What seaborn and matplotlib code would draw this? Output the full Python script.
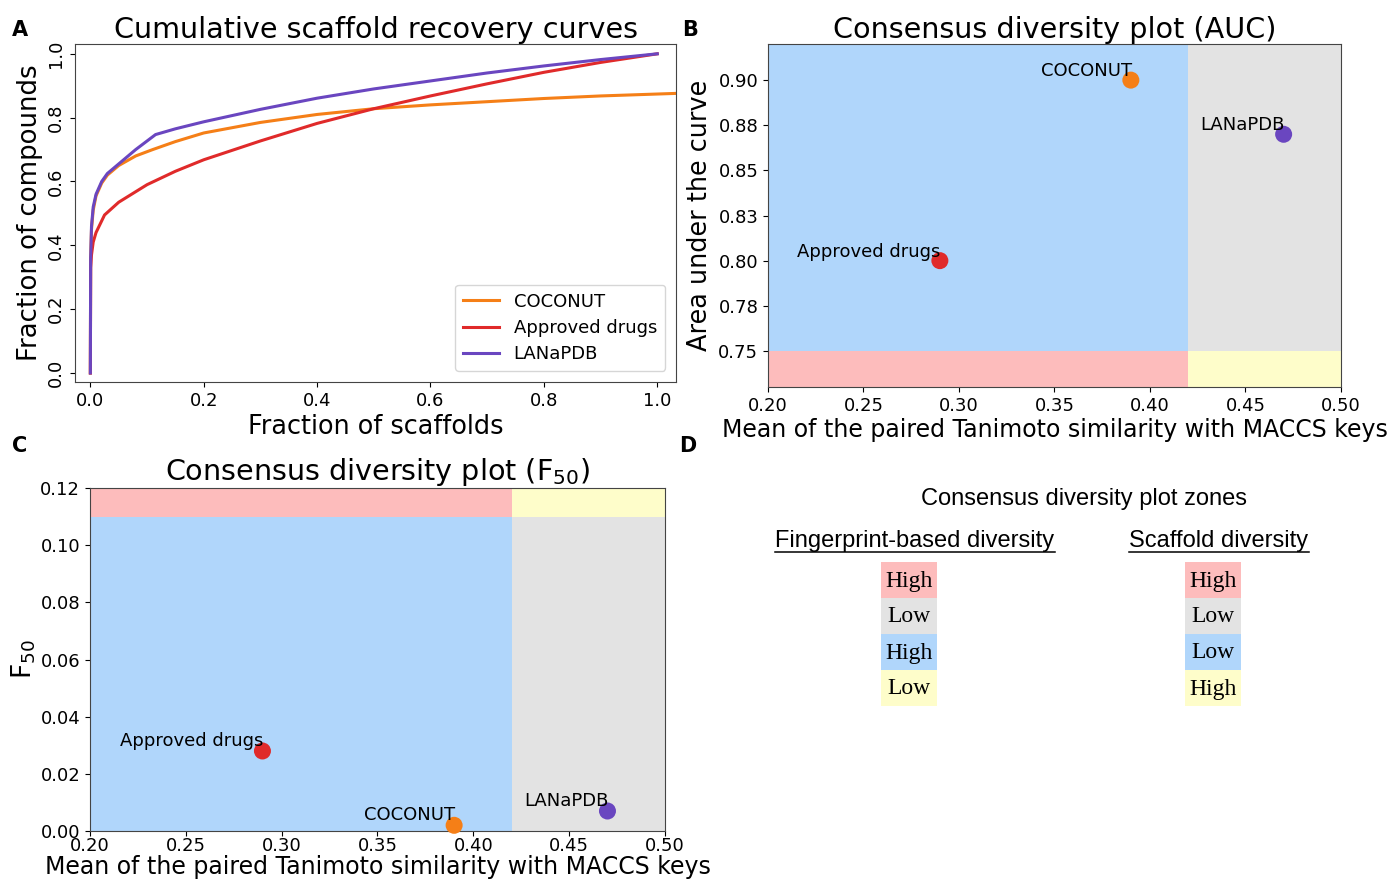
import numpy as np
import pandas as pd
import matplotlib
matplotlib.use("Agg")
import matplotlib.pyplot as plt
from matplotlib.patches import Rectangle
import seaborn as sns

# ---- cumulative scaffold recovery curves ----
frac_scaffolds_coconut = [0.0, 0.0005, 0.002, 0.005, 0.01, 0.02, 0.03, 0.05, 0.08, 0.11, 0.15, 0.2, 0.3, 0.4, 0.5, 0.6, 0.7, 0.8, 0.9, 1.0, 1.1]
frac_compounds_coconut = [0.0, 0.36, 0.45, 0.51, 0.555, 0.595, 0.62, 0.65, 0.68, 0.70, 0.725, 0.752, 0.785, 0.81, 0.828, 0.84, 0.85, 0.86, 0.868, 0.874, 0.88]

frac_scaffolds_drugs = [0.0, 0.0005, 0.002, 0.005, 0.01, 0.025, 0.05, 0.1, 0.15, 0.2, 0.3, 0.4, 0.5, 0.6, 0.7, 0.8, 0.9, 1.0]
frac_compounds_drugs = [0.0, 0.33, 0.37, 0.41, 0.44, 0.495, 0.535, 0.59, 0.632, 0.668, 0.727, 0.782, 0.828, 0.868, 0.906, 0.942, 0.973, 1.0]

frac_scaffolds_lanapdb = [0.0, 0.0005, 0.002, 0.005, 0.01, 0.02, 0.03, 0.05, 0.08, 0.115, 0.15, 0.2, 0.3, 0.4, 0.5, 0.6, 0.7, 0.8, 0.9, 1.0]
frac_compounds_lanapdb = [0.0, 0.36, 0.46, 0.52, 0.56, 0.60, 0.625, 0.655, 0.70, 0.747, 0.765, 0.787, 0.826, 0.861, 0.89, 0.915, 0.94, 0.962, 0.982, 1.0]

# ---- consensus diversity plot values ----
databases = ["COCONUT", "Approved drugs", "LANaPDB"]
mean_tanimoto_maccs = [0.39, 0.29, 0.47]
auc_values = [0.90, 0.80, 0.870]
f50_values = [0.002, 0.028, 0.007]

palette = {"COCONUT": "#f57f17", "Approved drugs": "#e02a2a", "LANaPDB": "#6a46c0"}

# zone colours and thresholds
zone_pink = "#fdbcbc"
zone_gray = "#e3e3e3"
zone_blue = "#b0d6fb"
zone_yellow = "#fefdca"
sim_threshold = 0.42
auc_threshold = 0.75
f50_threshold = 0.11

auc_ticks = [0.75, 0.775, 0.80, 0.825, 0.85, 0.875, 0.90]
auc_ticklabels = ["0.75", "0.78", "0.80", "0.83", "0.85", "0.88", "0.90"]

zone_fp_labels = ["High", "Low", "High", "Low"]
zone_scaf_labels = ["High", "Low", "Low", "High"]
zone_colors = [zone_pink, zone_gray, zone_blue, zone_yellow]

plt.rcParams["font.family"] = ["DejaVu Sans"]

fig = plt.figure(figsize=(13.9, 8.82), dpi=100)

curves = pd.concat([
    pd.DataFrame({"x": frac_scaffolds_coconut, "y": frac_compounds_coconut, "db": "COCONUT"}),
    pd.DataFrame({"x": frac_scaffolds_drugs, "y": frac_compounds_drugs, "db": "Approved drugs"}),
    pd.DataFrame({"x": frac_scaffolds_lanapdb, "y": frac_compounds_lanapdb, "db": "LANaPDB"}),
], ignore_index=True)

points = pd.DataFrame({"db": databases, "sim": mean_tanimoto_maccs,
                       "auc": auc_values, "f50": f50_values})

# ---- panel A ----
axA = fig.add_axes([0.054, 0.567, 0.4323, 0.3832])
sns.lineplot(data=curves, x="x", y="y", hue="db", palette=palette,
             linewidth=2.2, sort=False, estimator=None, ax=axA)
axA.set_xlim(-0.027, 1.033)
axA.set_ylim(-0.028, 1.031)
axA.set_xticks([0, 0.2, 0.4, 0.6, 0.8, 1.0])
axA.set_yticks([0, 0.2, 0.4, 0.6, 0.8, 1.0])
axA.tick_params(axis="both", labelsize=13)
for lab in axA.get_yticklabels():
    lab.set_rotation(90)
    lab.set_va("center")
axA.set_xlabel("Fraction of scaffolds", fontsize=18.4, labelpad=3)
axA.set_ylabel("Fraction of compounds", fontsize=18.7, labelpad=3)
axA.set_title("Cumulative scaffold recovery curves", fontsize=20.6, pad=4)
leg = axA.legend(title=None, fontsize=13, loc="lower right",
                 handlelength=2.0, borderpad=0.45, labelspacing=0.45,
                 borderaxespad=0.6)

# ---- panel B ----
axB = fig.add_axes([0.5525, 0.5612, 0.4122, 0.3889])
axB.set_xlim(0.2, 0.5)
axB.set_ylim(0.73, 0.92)
axB.axvspan(0.2, sim_threshold, color=zone_blue, lw=0, zorder=0)
axB.axvspan(sim_threshold, 0.5, color=zone_gray, lw=0, zorder=0)
axB.fill_between([0.2, sim_threshold], 0.73, auc_threshold, color=zone_pink, lw=0, zorder=0.5)
axB.fill_between([sim_threshold, 0.5], 0.73, auc_threshold, color=zone_yellow, lw=0, zorder=0.5)
sns.scatterplot(data=points, x="sim", y="auc", hue="db", palette=palette,
                s=150, edgecolor="none", legend=False, ax=axB, zorder=3)
for db, sx, sy in zip(databases, mean_tanimoto_maccs, auc_values):
    axB.text(sx + 0.0005, sy, db, ha="right", va="bottom", fontsize=13, zorder=4)
axB.set_yticks(auc_ticks)
axB.set_yticklabels(auc_ticklabels)
axB.set_xticks([0.2, 0.25, 0.3, 0.35, 0.4, 0.45, 0.5])
axB.set_xticklabels(["0.20", "0.25", "0.30", "0.35", "0.40", "0.45", "0.50"])
axB.tick_params(axis="both", labelsize=13)
axB.set_xlabel("Mean of the paired Tanimoto similarity with MACCS keys", fontsize=17, labelpad=2)
axB.set_ylabel("Area under the curve", fontsize=18.4)
axB.set_title("Consensus diversity plot (AUC)", fontsize=20.6, pad=4)

# ---- panel C ----
axC = fig.add_axes([0.0647, 0.0578, 0.4137, 0.3889])
axC.set_xlim(0.2, 0.5)
axC.set_ylim(0.0, 0.12)
axC.axvspan(0.2, sim_threshold, color=zone_blue, lw=0, zorder=0)
axC.axvspan(sim_threshold, 0.5, color=zone_gray, lw=0, zorder=0)
axC.fill_between([0.2, sim_threshold], f50_threshold, 0.12, color=zone_pink, lw=0, zorder=0.5)
axC.fill_between([sim_threshold, 0.5], f50_threshold, 0.12, color=zone_yellow, lw=0, zorder=0.5)
sns.scatterplot(data=points, x="sim", y="f50", hue="db", palette=palette,
                s=150, edgecolor="none", legend=False, ax=axC, zorder=3, clip_on=False)
for db, sx, sy in zip(databases, mean_tanimoto_maccs, f50_values):
    axC.text(sx + 0.0005, sy + 0.0005, db, ha="right", va="bottom", fontsize=13, zorder=4)
axC.set_xticks([0.2, 0.25, 0.3, 0.35, 0.4, 0.45, 0.5])
axC.set_xticklabels(["0.20", "0.25", "0.30", "0.35", "0.40", "0.45", "0.50"])
axC.set_yticks([0.0, 0.02, 0.04, 0.06, 0.08, 0.10, 0.12])
axC.set_yticklabels(["0.00", "0.02", "0.04", "0.06", "0.08", "0.10", "0.12"])
axC.tick_params(axis="both", labelsize=13)
axC.tick_params(axis="x", pad=1)
axC.set_xlabel("Mean of the paired Tanimoto similarity with MACCS keys", fontsize=17, labelpad=0)
axC.set_ylabel("F$_{50}$", fontsize=19, labelpad=2)
axC.set_title("Consensus diversity plot (F$_{50}$)", fontsize=20.6, pad=4)

for ax in (axA, axB, axC):
    for sp in ax.spines.values():
        sp.set_color("#444444")

# ---- panel D: zone key ----
axD = fig.add_axes([0.5, 0.0, 0.5, 0.5])
axD.set_xlim(0, 695)
axD.set_ylim(441, 0)
axD.axis("off")
sans_key = ["Liberation Sans", "DejaVu Sans"]
axD.text(1084 - 695, 58, "Consensus diversity plot zones", ha="center", va="center",
         fontsize=17, family=sans_key)
for cx, head, labels in ((915 - 695, "Fingerprint-based diversity", zone_fp_labels),
                         (1219 - 695, "Scaffold diversity", zone_scaf_labels)):
    t = axD.text(cx, 100, head, ha="center", va="center", fontsize=17, family=sans_key)
    fig.canvas.draw()
    bb = t.get_window_extent().transformed(axD.transData.inverted())
    axD.plot([bb.x0, bb.x1], [110.5, 110.5], color="black", lw=1.1)
    for i, (lab, col) in enumerate(zip(labels, zone_colors)):
        y0 = 121 + i * 36
        axD.add_patch(Rectangle((cx - 34, y0), 56, 36, facecolor=col, edgecolor="none"))
        axD.text(cx - 34 + 28, y0 + 19, lab, ha="center", va="center", fontsize=17,
                 family=["Liberation Serif", "DejaVu Serif"])

# panel letters
for letter, px, py in (("A", 20, 30), ("B", 690, 30), ("C", 20, 446), ("D", 688, 446)):
    fig.text(px / 1390, 1 - py / 882, letter, fontsize=15, fontweight="bold",
             ha="center", va="center")

fig.savefig("out.png", dpi=100)
